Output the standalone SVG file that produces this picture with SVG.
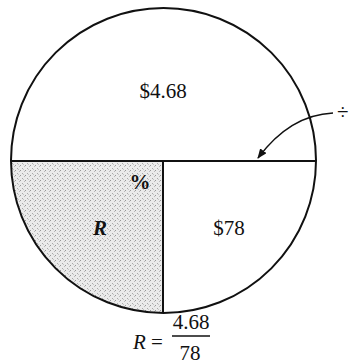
<svg xmlns="http://www.w3.org/2000/svg" width="349" height="364" viewBox="0 0 349 364">
<style>
.ln{fill:none;stroke:#111;stroke-width:2}
.t{font-family:"Liberation Serif","Times New Roman",serif;fill:#111;font-size:21px}
.it{font-style:italic;font-weight:bold}
.iv{font-style:italic}
</style>
<defs>
<pattern id="dots" width="5" height="5" patternUnits="userSpaceOnUse">
<rect width="5" height="5" fill="#ebebeb"/>
<rect x="0" y="0" width="1" height="1" fill="#999"/>
<rect x="2" y="3" width="1" height="1" fill="#aaa"/>
<rect x="4" y="1" width="1" height="1" fill="#bbb"/>
<rect x="3" y="4" width="1" height="1" fill="#c4c4c4"/>
</pattern>
<marker id="ah" markerWidth="10" markerHeight="8" refX="9" refY="4" orient="auto" markerUnits="userSpaceOnUse">
<path d="M0,0 L10,4 L0,8 Z" fill="#111"/>
</marker>
</defs>
<g id="shaded">
<path d="M163,161 L11,161 A152.5,152.5 0 0 0 163,313 Z" fill="url(#dots)"/>
</g>
<g id="circle">
<circle cx="163.5" cy="160.5" r="152.5" class="ln"/>
</g>
<g id="connectors">
<line x1="11" y1="161" x2="316" y2="161" class="ln"/>
<line x1="163" y1="161" x2="163" y2="313" class="ln"/>
<path d="M333,113 Q290,115 258,158" fill="none" stroke="#111" stroke-width="1.3" marker-end="url(#ah)"/>
</g>
<g id="top"><text class="t" x="163" y="98" text-anchor="middle">$4.68</text></g>
<g id="pct"><text class="t" x="140" y="189" text-anchor="middle" font-weight="bold" font-size="17">%</text></g>
<g id="r"><text class="t it" x="100" y="235" text-anchor="middle">R</text></g>
<g id="right"><text class="t" x="229" y="235" text-anchor="middle">$78</text></g>
<g id="div"><text class="t" x="337" y="119" font-size="16">÷</text></g>
<g id="formula">
<text class="t" x="133" y="349"><tspan class="iv">R</tspan> =</text>
<text class="t" x="191" y="329" text-anchor="middle">4.68</text>
<line x1="172" y1="336" x2="210" y2="336" stroke="#111" stroke-width="1.3"/>
<text class="t" x="190" y="360" text-anchor="middle">78</text>
</g>
</svg>
